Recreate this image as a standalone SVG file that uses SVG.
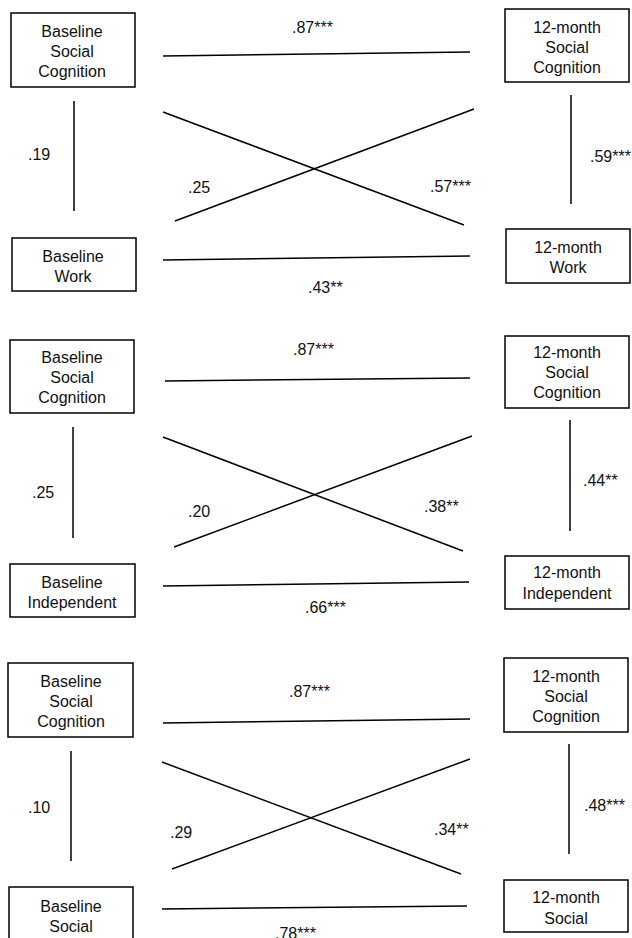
<svg xmlns="http://www.w3.org/2000/svg" width="632" height="938" viewBox="0 0 632 938">
<style>
.box{fill:#fff;stroke:#000;stroke-width:1.5}
.t{font-family:"Liberation Sans",Arial,sans-serif;font-size:16px;fill:#111;text-anchor:middle}
.l{font-family:"Liberation Sans",Arial,sans-serif;font-size:16px;fill:#111}
.c line{stroke:#000;stroke-width:1.5}
</style>
<rect width="632" height="938" fill="#fff"/>
<g class="c" id="connectors">
<line x1="163" y1="56" x2="470" y2="52"/>
<line x1="74" y1="101" x2="74" y2="211"/>
<line x1="163" y1="112" x2="464" y2="225"/>
<line x1="175" y1="221" x2="474" y2="109"/>
<line x1="163" y1="260" x2="470" y2="256"/>
<line x1="571" y1="95" x2="571" y2="204"/>
<line x1="165" y1="381" x2="470" y2="378"/>
<line x1="73" y1="427" x2="73" y2="538"/>
<line x1="163" y1="437" x2="463" y2="551"/>
<line x1="174" y1="547" x2="472" y2="436"/>
<line x1="163" y1="586" x2="469" y2="582"/>
<line x1="570" y1="420" x2="570" y2="531"/>
<line x1="163" y1="723" x2="470" y2="719"/>
<line x1="71" y1="751" x2="71" y2="861"/>
<line x1="162" y1="762" x2="461" y2="874"/>
<line x1="172" y1="869" x2="470" y2="759"/>
<line x1="162" y1="909" x2="467" y2="906"/>
<line x1="569" y1="744" x2="569" y2="854"/>
</g>
<g id="labels">
<text class="l" x="292" y="33">.87***</text>
<text class="l" x="28" y="160">.19</text>
<text class="l" x="188" y="193">.25</text>
<text class="l" x="430" y="192">.57***</text>
<text class="l" x="308" y="293">.43**</text>
<text class="l" x="590" y="162">.59***</text>
<text class="l" x="293" y="355">.87***</text>
<text class="l" x="32" y="498">.25</text>
<text class="l" x="188" y="517">.20</text>
<text class="l" x="424" y="512">.38**</text>
<text class="l" x="305" y="613">.66***</text>
<text class="l" x="583" y="486">.44**</text>
<text class="l" x="289" y="697">.87***</text>
<text class="l" x="28" y="813">.10</text>
<text class="l" x="170" y="838">.29</text>
<text class="l" x="434" y="835">.34**</text>
<text class="l" x="275" y="939">.78***</text>
<text class="l" x="584" y="811">.48***</text>
</g>
<g id="n1a"><rect class="box" x="11" y="13" width="124" height="74"/><text class="t" x="72" y="37">Baseline</text><text class="t" x="72" y="57">Social</text><text class="t" x="72" y="77">Cognition</text></g>
<g id="n1b"><rect class="box" x="12" y="238" width="124" height="53"/><text class="t" x="73" y="262">Baseline</text><text class="t" x="73" y="282">Work</text></g>
<g id="n1c"><rect class="box" x="505" y="9" width="124" height="73"/><text class="t" x="567" y="33">12-month</text><text class="t" x="567" y="53">Social</text><text class="t" x="567" y="73">Cognition</text></g>
<g id="n1d"><rect class="box" x="506" y="229" width="124" height="54"/><text class="t" x="568" y="253">12-month</text><text class="t" x="568" y="273">Work</text></g>
<g id="n2a"><rect class="box" x="10" y="340" width="124" height="73"/><text class="t" x="72" y="363">Baseline</text><text class="t" x="72" y="383">Social</text><text class="t" x="72" y="403">Cognition</text></g>
<g id="n2b"><rect class="box" x="10" y="564" width="125" height="53"/><text class="t" x="72" y="588">Baseline</text><text class="t" x="72" y="608">Independent</text></g>
<g id="n2c"><rect class="box" x="505" y="336" width="124" height="72"/><text class="t" x="567" y="358">12-month</text><text class="t" x="567" y="378">Social</text><text class="t" x="567" y="398">Cognition</text></g>
<g id="n2d"><rect class="box" x="505" y="556" width="124" height="53"/><text class="t" x="567" y="578">12-month</text><text class="t" x="567" y="599">Independent</text></g>
<g id="n3a"><rect class="box" x="8" y="663" width="125" height="74"/><text class="t" x="71" y="687">Baseline</text><text class="t" x="71" y="707">Social</text><text class="t" x="71" y="727">Cognition</text></g>
<g id="n3b"><rect class="box" x="9" y="887" width="124" height="60"/><text class="t" x="71" y="912">Baseline</text><text class="t" x="71" y="932">Social</text></g>
<g id="n3c"><rect class="box" x="504" y="658" width="124" height="74"/><text class="t" x="566" y="682">12-month</text><text class="t" x="566" y="702">Social</text><text class="t" x="566" y="722">Cognition</text></g>
<g id="n3d"><rect class="box" x="504" y="880" width="124" height="52"/><text class="t" x="566" y="903">12-month</text><text class="t" x="566" y="924">Social</text></g>
</svg>
